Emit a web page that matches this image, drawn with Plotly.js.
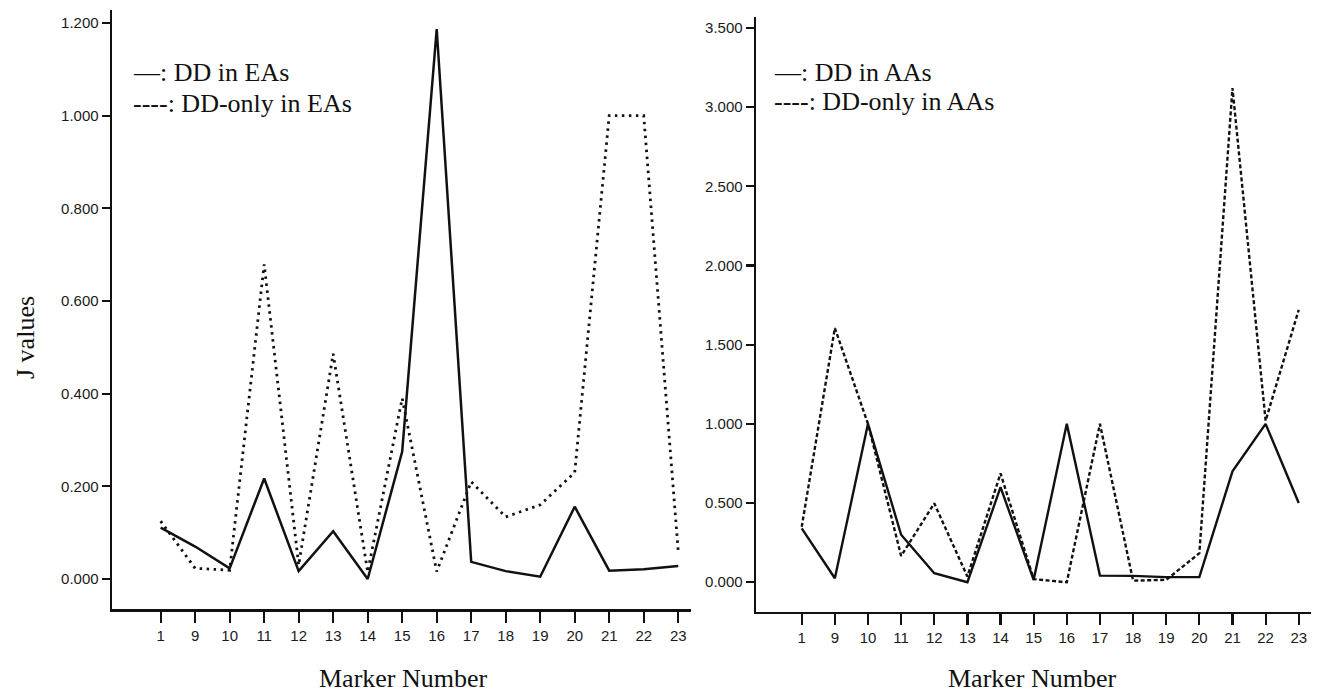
<!DOCTYPE html>
<html>
<head>
<meta charset="utf-8">
<script src="https://cdn.plot.ly/plotly-3.0.1.min.js"></script>
<style>
  html, body { margin: 0; padding: 0; background: #fff; }
  #chart { width: 1323px; height: 694px; }
</style>
</head>
<body>
<div id="chart"></div>
<script>
// Categories (marker numbers)
const markers = ["1","9","10","11","12","13","14","15","16","17","18","19","20","21","22","23"];

// Left panel: EAs
const ddInEAs     = [0.111, 0.070, 0.023, 0.217, 0.017, 0.103, 0.000, 0.275, 1.187, 0.037, 0.017, 0.005, 0.156, 0.018, 0.021, 0.028];
const ddOnlyInEAs = [0.125, 0.023, 0.019, 0.679, 0.030, 0.486, 0.015, 0.390, 0.016, 0.210, 0.134, 0.160, 0.230, 1.000, 1.000, 0.060];

// Right panel: AAs
const ddInAAs     = [0.340, 0.025, 1.000, 0.300, 0.057, 0.000, 0.600, 0.015, 1.000, 0.042, 0.040, 0.032, 0.032, 0.700, 1.000, 0.500];
const ddOnlyInAAs = [0.350, 1.605, 1.000, 0.166, 0.498, 0.036, 0.687, 0.020, 0.000, 1.000, 0.010, 0.015, 0.183, 3.120, 1.020, 1.720];

// Tick values
const leftTicks  = [0, 0.2, 0.4, 0.6, 0.8, 1.0, 1.2];
const rightTicks = [0, 0.5, 1.0, 1.5, 2.0, 2.5, 3.0, 3.5];

// Text
const legendLeft  = ["\u2014: DD in EAs", "----: DD-only in EAs"];
const legendRight = ["\u2014: DD in AAs", "----: DD-only in AAs"];
const xTitle = "Marker Number";
const yTitle = "J values";

const W = 1323, H = 694;
const px = v => v / W;
const py = v => 1 - v / H;

const traces = [
  { x: markers, y: ddInEAs, type: "scatter", mode: "lines", xaxis: "x", yaxis: "y",
    line: { color: "#111", width: 2.5 }, name: "DD in EAs", showlegend: false },
  { x: markers, y: ddOnlyInEAs, type: "scatter", mode: "lines", xaxis: "x", yaxis: "y",
    line: { color: "#111", width: 2.8, dash: "2.5px,4.5px" }, name: "DD-only in EAs", showlegend: false },
  { x: markers, y: ddInAAs, type: "scatter", mode: "lines", xaxis: "x2", yaxis: "y2",
    line: { color: "#111", width: 2.4 }, name: "DD in AAs", showlegend: false },
  { x: markers, y: ddOnlyInAAs, type: "scatter", mode: "lines", xaxis: "x2", yaxis: "y2",
    line: { color: "#111", width: 2.4, dash: "4px,2.5px" }, name: "DD-only in AAs", showlegend: false }
];

const tickFont = { family: "Liberation Sans, Arial, sans-serif", size: 15, color: "#1a1a1a" };
const serif = "Liberation Serif, Times New Roman, serif";

function xAxis(domain, range) {
  return {
    type: "category", domain: domain, range: range,
    showline: true, linecolor: "#111", linewidth: 2.4,
    ticks: "outside", ticklen: 11, tickwidth: 2.2, tickcolor: "#111",
    showgrid: false, zeroline: false, tickfont: tickFont, fixedrange: true
  };
}
function yAxis(domain, range, ticks) {
  return {
    domain: domain, range: range,
    tickvals: ticks, tickformat: ".3f",
    showline: true, linecolor: "#111", linewidth: 2.4,
    ticks: "outside", ticklen: 8, tickwidth: 2.2, tickcolor: "#111",
    showgrid: false, zeroline: false, tickfont: tickFont, fixedrange: true
  };
}

const annFont = { family: serif, size: 26, color: "#111" };
const annotations = [
  { xref: "paper", yref: "paper", x: px(131), y: py(72), xanchor: "left", yanchor: "middle",
    text: legendLeft[0], showarrow: false, font: annFont },
  { xref: "paper", yref: "paper", x: px(131), y: py(103), xanchor: "left", yanchor: "middle",
    text: legendLeft[1], showarrow: false, font: annFont },
  { xref: "paper", yref: "paper", x: px(772), y: py(72), xanchor: "left", yanchor: "middle",
    text: legendRight[0], showarrow: false, font: annFont },
  { xref: "paper", yref: "paper", x: px(772), y: py(101), xanchor: "left", yanchor: "middle",
    text: legendRight[1], showarrow: false, font: annFont },
  { xref: "paper", yref: "paper", x: px(404), y: py(678), xanchor: "center", yanchor: "middle",
    text: xTitle, showarrow: false, font: annFont },
  { xref: "paper", yref: "paper", x: px(1032), y: py(678), xanchor: "center", yanchor: "middle",
    text: xTitle, showarrow: false, font: annFont },
  { xref: "paper", yref: "paper", x: px(25), y: py(338), xanchor: "center", yanchor: "middle",
    text: yTitle, textangle: -90, showarrow: false, font: annFont }
];

const layout = {
  width: W, height: H,
  margin: { l: 0, r: 0, t: 0, b: 0, pad: 0 },
  paper_bgcolor: "#fff", plot_bgcolor: "#fff",
  showlegend: false,
  xaxis:  Object.assign(xAxis([px(112), px(691)], [-1.41, 15.37]), { anchor: "y" }),
  yaxis:  Object.assign(yAxis([py(609.3), py(10)], [-0.0654, 1.228], leftTicks), { anchor: "x" }),
  xaxis2: Object.assign(xAxis([px(756), px(1311)], [-1.38, 15.37]), { anchor: "y2" }),
  yaxis2: Object.assign(yAxis([py(611.7), py(17)], [-0.186, 3.569], rightTicks), { anchor: "x2" }),
  annotations: annotations
};

Plotly.newPlot("chart", traces, layout, { displayModeBar: false, staticPlot: true });
</script>
</body>
</html>
